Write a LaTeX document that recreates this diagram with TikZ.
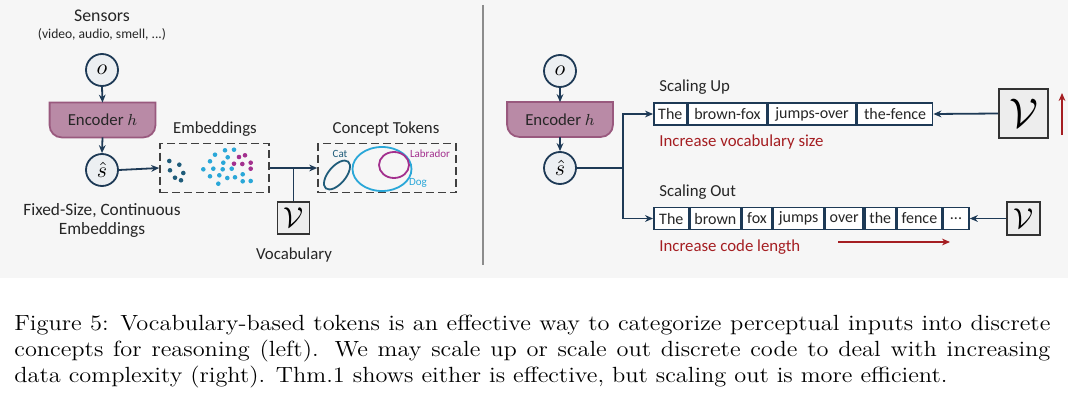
\documentclass[tikz,border=0pt]{standalone}
\usepackage{fontspec}
\usepackage{graphicx}
\usetikzlibrary{arrows.meta,shapes.geometric}
\newfontfamily\diagfont{Carlito}
\definecolor{navy}{HTML}{1E3A56}
\definecolor{bgg}{HTML}{F6F6F6}
\definecolor{circfill}{HTML}{ECEFF2}
\definecolor{encfill}{HTML}{B98AA6}
\definecolor{encdraw}{HTML}{99597E}
\definecolor{vfill}{HTML}{EDEDED}
\definecolor{vdraw}{HTML}{333333}
\definecolor{darkred}{HTML}{A51E22}
\definecolor{catc}{HTML}{1F5C7A}
\definecolor{dogc}{HTML}{2AA7D8}
\definecolor{labc}{HTML}{A3308E}
\definecolor{dashc}{HTML}{404040}
\begin{document}
\begin{tikzpicture}[x=0.5pt,y=-0.5pt,
 lbl/.style={font=\diagfont\fontsize{8.4}{10}\selectfont, inner sep=0, text=black!85},
 smalllbl/.style={font=\diagfont\fontsize{6.8}{8}\selectfont, inner sep=0, text=black!85},
 tinylbl/.style={font=\diagfont\fontsize{5.5}{6.5}\selectfont, inner sep=0},
 redlbl/.style={lbl, text=darkred, anchor=west},
 var/.style={circle, draw=navy, line width=0.9pt, fill=circfill, minimum size=16pt, inner sep=0, font=\fontsize{10.5}{12}\selectfont},
 encbox/.style={rectangle, minimum width=52.5pt, minimum height=17pt, inner sep=0},
 encpath/.style={fill=encfill, draw=encdraw, line width=0.9pt},
 vbox/.style={rectangle, draw=vdraw, fill=vfill, line width=0.9pt, inner sep=0},
 dbox/.style={rectangle, draw=dashc, dash pattern=on 4pt off 2pt, line width=0.8pt, minimum height=24.5pt, inner sep=0},
 arr/.style={draw=navy, line width=0.9pt, -{Stealth[length=4pt,width=3.4pt]}},
 conn/.style={draw=navy, line width=0.9pt},
 redarr/.style={draw=darkred, line width=0.9pt, -{Stealth[length=4pt,width=3.4pt]}},
 cell/.style={rectangle, draw=navy, fill=white, line width=0.8pt, minimum height=11pt, inner sep=0, anchor=west, font=\diagfont\fontsize{8}{10}\selectfont, text=black!85},
 concept/.style={ellipse, line width=0.9pt, inner sep=0},
]
\useasboundingbox (0,0) rectangle (1080,401);
\fill[white] (0,0) rectangle (1080,401);
\fill[bgg] (0,0) rectangle (1068,278);
\draw[black!45, line width=0.6pt] (483,5) -- (483,265);

% ---------- left ----------
\node[lbl, font=\diagfont\fontsize{8.9}{10}\selectfont] (sens) at (102,16) {Sensors};
\node[smalllbl] (sensd) at (102,34) {(video, audio, smell, ...)};
\node[var] (o1) at (102,70) {$o$};
\node[encbox] (e1) at (102.5,120) {};
\draw[encpath] (e1.north west) -- (e1.north east) -- ([yshift=6pt]e1.south east) arc[start angle=0,end angle=-90,radius=6pt] -- ([xshift=6pt]e1.south west) arc[start angle=270,end angle=180,radius=6pt] -- cycle;
\node[lbl] (e1t) at (e1) {Encoder $h$};
\node[var] (s1) at (102,170) {$\hat{s}$};
\draw[arr] (o1.south) -- (e1.north);
\draw[arr] (e1.south) -- (s1.north);
\node[lbl, align=center, font=\diagfont\fontsize{8.65}{9.5}\selectfont] (fixed) at (102,220) {Fixed-Size, Continuous\\Embeddings};

\node[dbox, minimum width=54.5pt] (emb) at (214.5,168) {};
\node[lbl] (embl) at (215,129) {Embeddings};
\draw[arr] (s1.east) -- (emb.west);
\foreach \x/\y in {169.3/161,179.3/164.7,170/170.3,183.3/173,175/177.7,181/180.3}
  \fill[catc] (\x,\y) circle[radius=1.15pt];
\foreach \x/\y in {225/150.3,234/149.7,215/154.7,227.7/157.3,210/161.3,223.3/162.7,203.3/169.3,213.3/168.7,222.7/169.3,231.7/168.7,210/176.3,219.3/175.3,227.3/178,235/177.3,242.7/174.3,218.3/183.7,250.7/181,242.7/181.3}
  \fill[dogc] (\x,\y) circle[radius=1.15pt];
\foreach \x/\y in {239/157,245/155.3,234/163.7,242.3/164,250.7/162.7,250.7/168.7}
  \fill[labc] (\x,\y) circle[radius=1.15pt];

\node[dbox, minimum width=69pt] (con) at (387,168) {};
\node[lbl] (conl) at (386,129) {Concept Tokens};
\coordinate (jl) at (293.5,168);
\node[vbox, minimum size=16pt, font=\fontsize{14.5}{16}\selectfont] (v0) at (293.5,218) {$\mathcal{V}$};
\draw[arr] (emb.east) -- (con.west);
\draw[conn] (jl) -- (v0.north);
\node[lbl] (vocab) at (294,255) {Vocabulary};

\node[concept, draw=catc, minimum width=8.7pt, minimum height=17.4pt, rotate=-40] (cat) at (337,175) {};
\node[concept, draw=dogc, minimum width=29.5pt, minimum height=22pt] (dog) at (382,169) {};
\node[concept, draw=labc, minimum width=15pt, minimum height=13pt] (lab) at (394,165) {};
\node[tinylbl, text=catc] (catl) at (340,154) {Cat};
\node[tinylbl, text=labc] (labl) at (430,154) {Labrador};
\node[tinylbl, text=dogc] (dogl) at (418,183) {Dog};

% ---------- right ----------
\node[var] (o2) at (560,71) {$o$};
\node[encbox] (e2) at (560,119.5) {};
\draw[encpath] (e2.north west) -- (e2.north east) -- ([yshift=6pt]e2.south east) arc[start angle=0,end angle=-90,radius=6pt] -- ([xshift=6pt]e2.south west) arc[start angle=270,end angle=180,radius=6pt] -- cycle;
\node[lbl] (e2t) at (e2) {Encoder $h$};
\node[var] (s2) at (560,168) {$\hat{s}$};
\draw[arr] (o2.south) -- (e2.north);
\draw[arr] (e2.south) -- (s2.north);

\node[cell, minimum width=16.5pt] (a1) at (653,114) {The};
\node[cell, minimum width=39pt] (a2) at (a1.east) {brown-fox};
\node[cell, minimum width=44pt] (a3) at (a2.east) {jumps-over};
\node[cell, minimum width=37.5pt] (a4) at (a3.east) {the-fence};

\node[cell, minimum width=17.5pt] (b1) at (653,218.5) {The};
\node[cell, minimum width=25pt] (b2) at (b1.east) {brown};
\node[cell, minimum width=15pt] (b3) at (b2.east) {fox};
\node[cell, minimum width=25pt] (b4) at (b3.east) {jumps};
\node[cell, minimum width=19pt] (b5) at (b4.east) {over};
\node[cell, minimum width=15.5pt] (b6) at (b5.east) {the};
\node[cell, minimum width=22pt] (b7) at (b6.east) {fence};
\node[cell, minimum width=13pt] (b8) at (b7.east) {...};

\coordinate (j2) at (623,168);
\draw[conn] (s2.east) -- (j2);
\draw[arr] (j2) |- (a1.west);
\draw[arr] (j2) |- (b1.west);

\node[lbl, anchor=west] (su) at (659,87) {Scaling Up};
\node[redlbl] (ivs) at (659,142) {Increase vocabulary size};
\node[lbl, anchor=west] (so) at (659,192) {Scaling Out};
\node[redlbl] (icl) at (659,247) {Increase code length};

\node[vbox, minimum size=24.5pt, font=\fontsize{20}{22}\selectfont] (v1) at (1023.5,113.5) {$\mathcal{V}$};
\draw[arr] (v1.west) -- (a4.east);
\node[vbox, minimum size=16.5pt, font=\fontsize{14.5}{16}\selectfont] (v2) at (1023.5,218.5) {$\mathcal{V}$};
\draw[arr] (v2.west) -- (b8.east);

\coordinate (ru1) at (1062,135);
\coordinate (ru2) at (1062,93);
\draw[redarr] (ru1) -- (ru2);
\coordinate (rr1) at (838,242);
\coordinate (rr2) at (950,242);
\draw[redarr] (rr1) -- (rr2);

% ---------- caption ----------
\node[anchor=base west, inner sep=0] (cap) at (14,330) {\scalebox{1}[0.9]{\parbox[t]{518pt}{\fontsize{12.2}{14.6}\selectfont
\hbox to 518pt{Figure 5: Vocabulary-based tokens is an effective way to categorize perceptual inputs into discrete}
\hbox to 518pt{concepts for reasoning (left). We may scale up or scale out discrete code to deal with increasing}
\hbox{data complexity (right). Thm.1 shows either is effective, but scaling out is more efficient.}}}};
\end{tikzpicture}
\end{document}
